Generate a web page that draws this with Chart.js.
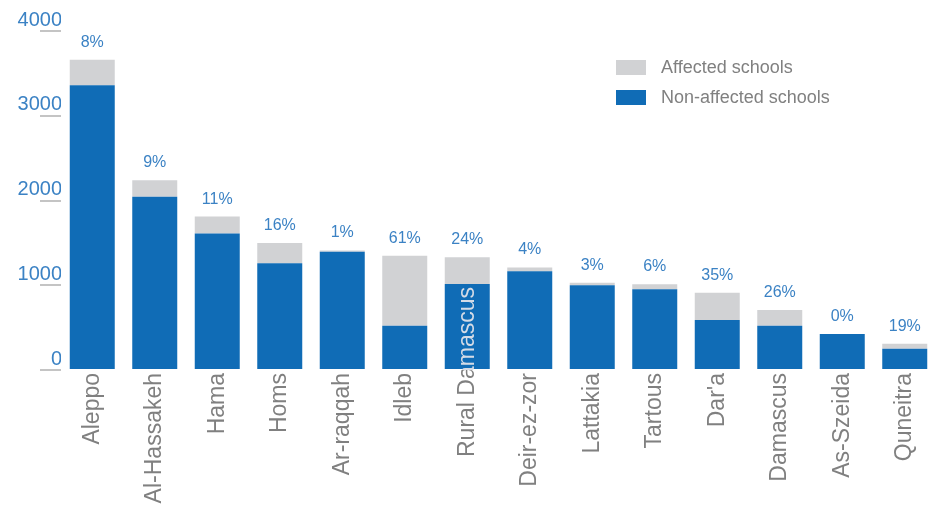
<!DOCTYPE html>
<html lang="en">
<head>
<meta charset="UTF-8">
<title>Affected and non-affected schools</title>
<script src="https://cdn.jsdelivr.net/npm/chart.js"></script>
<style>
    html, body { margin: 0; padding: 0; background: #fff; overflow: hidden; }
    .chart-container { position: relative; width: 936px; height: 505px; }
</style>
</head>
<body>
<div class="chart-container">
    <canvas id="schoolsChart"></canvas>
</div>
<script>
const governorates = ['Aleppo', 'Al-Hassakeh', 'Hama', 'Homs', 'Ar-raqqah', 'Idleb', 'Rural Damascus',
    'Deir-ez-zor', 'Lattakia', 'Tartous', "Dar'a", 'Damascus', 'As-Szeida', 'Quneitra'];
const nonAffected = [3360, 2045, 1610, 1260, 1396, 523, 1015, 1165, 999, 952, 590, 523, 425, 251];
const affected    = [ 300,  195,  200,  240,   15, 826,  315,   45,  31,  60, 322, 185,   0,  60];
const affectedShare = ['8%', '9%', '11%', '16%', '1%', '61%', '24%', '4%', '3%', '6%', '35%', '26%', '0%', '19%'];
const yTicks = [0, 1000, 2000, 3000, 4000];

const FONT = "'Liberation Sans', Arial, sans-serif";
const BLUE = '#106cb6';
const GREY = '#d1d2d4';
const LABEL_BLUE = '#3b82c4';
const TEXT_GREY = '#808080';
const TEXT_ON_BAR = '#d4dbe6';

// the Rural Damascus label sits higher than the rest in the original
const labelShift = { 'Rural Damascus': -86 };

const shareLabels = {
    id: 'shareLabels',
    afterDatasetsDraw(chart) {
        const ctx = chart.ctx;
        const meta = chart.getDatasetMeta(1);
        ctx.save();
        ctx.font = '16px ' + FONT;
        ctx.fillStyle = LABEL_BLUE;
        ctx.textAlign = 'center';
        ctx.textBaseline = 'alphabetic';
        meta.data.forEach((bar, i) => {
            ctx.fillText(affectedShare[i], bar.x, bar.y - 13);
        });
        ctx.restore();
    }
};

const xLabels = {
    id: 'xLabels',
    afterDraw(chart) {
        const ctx = chart.ctx;
        const xs = chart.scales.x;
        const area = chart.chartArea;
        const drawAll = () => {
            chart.data.labels.forEach((lab, i) => {
                const x = xs.getPixelForValue(i);
                const y = xs.top + 3 + (labelShift[lab] || 0);
                ctx.save();
                ctx.translate(x, y);
                ctx.rotate(-Math.PI / 2);
                ctx.fillText(lab, 0, 0);
                ctx.restore();
            });
        };
        ctx.save();
        ctx.font = '23px ' + FONT;
        ctx.textAlign = 'right';
        ctx.textBaseline = 'middle';
        // below the axis
        ctx.save();
        ctx.beginPath();
        ctx.rect(0, area.bottom, chart.width, chart.height - area.bottom);
        ctx.clip();
        ctx.fillStyle = TEXT_GREY;
        drawAll();
        ctx.restore();
        // any part that runs up over the bars
        ctx.save();
        ctx.beginPath();
        ctx.rect(0, 0, chart.width, area.bottom);
        ctx.clip();
        ctx.fillStyle = TEXT_ON_BAR;
        drawAll();
        ctx.restore();
        ctx.restore();
    }
};

const legendBox = {
    id: 'legendBox',
    afterDraw(chart) {
        const ctx = chart.ctx;
        const sets = chart.data.datasets.slice().reverse();
        ctx.save();
        ctx.font = '18px ' + FONT;
        ctx.textAlign = 'left';
        ctx.textBaseline = 'middle';
        sets.forEach((ds, i) => {
            const top = 60 + i * 30;
            ctx.fillStyle = ds.backgroundColor;
            ctx.fillRect(616, top, 30, 15);
            ctx.fillStyle = TEXT_GREY;
            ctx.fillText(ds.label, 661, top + 8);
        });
        ctx.restore();
    }
};

new Chart(document.getElementById('schoolsChart'), {
    type: 'bar',
    data: {
        labels: governorates,
        datasets: [
            { label: 'Non-affected schools', data: nonAffected, backgroundColor: BLUE },
            { label: 'Affected schools', data: affected, backgroundColor: GREY }
        ]
    },
    options: {
        responsive: true,
        maintainAspectRatio: false,
        animation: false,
        layout: { padding: { top: 31, left: 0, right: 0, bottom: 0 } },
        datasets: { bar: { categoryPercentage: 1, barPercentage: 0.72 } },
        plugins: {
            legend: { display: false },
            tooltip: { enabled: false }
        },
        scales: {
            x: {
                stacked: true,
                grid: { display: false },
                border: { display: false },
                ticks: { display: false },
                afterFit: s => { s.height = 135; }
            },
            y: {
                stacked: true,
                min: 0,
                max: 4000,
                afterBuildTicks: axis => { axis.ticks = yTicks.map(v => ({ value: v })); },
                grid: {
                    drawOnChartArea: false,
                    drawTicks: true,
                    tickLength: 21,
                    color: '#c4c4c4',
                    lineWidth: 2
                },
                border: { display: false },
                ticks: {
                    padding: -22,
                    labelOffset: -11,
                    color: LABEL_BLUE,
                    font: { family: FONT, size: 20 },
                    callback: v => String(v)
                },
                afterFit: s => { s.width = 61; }
            }
        }
    },
    plugins: [shareLabels, xLabels, legendBox]
});
</script>
</body>
</html>
